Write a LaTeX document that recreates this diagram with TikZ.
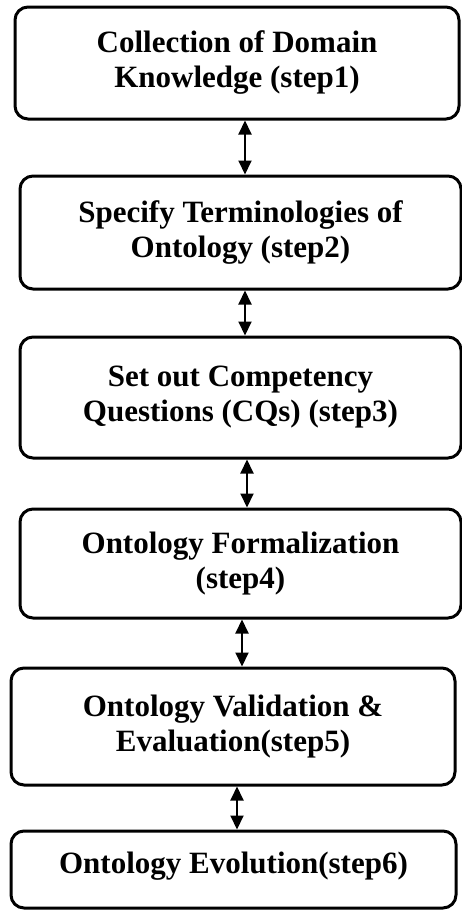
\documentclass[tikz,border=0pt]{standalone}
\usepackage{fontspec}
\setmainfont{Liberation Serif}
\usepackage{xcolor}
\usepackage{tikz}
\usetikzlibrary{arrows.meta,positioning,calc}
\definecolor{edgeblack}{HTML}{000000}
\tikzset{
  stepbox/.style={draw=edgeblack, line width=3pt, rounded corners=13pt, align=center, fill=white, inner sep=0pt, font=\fontsize{31}{35}\selectfont\bfseries},
  link/.style={{Triangle[length=14pt,width=13pt]}-{Triangle[length=14pt,width=13pt]}, line width=2pt, draw=edgeblack}
}

\begin{document}
\begin{tikzpicture}[x=1pt,y=-1pt]
  \useasboundingbox (0,0) rectangle (462,910);
  \node[stepbox, minimum width=444pt, minimum height=112pt] (collect) at (237,63) {Collection of Domain\\Knowledge (step1)};
  \node[stepbox, minimum width=441pt, minimum height=113pt] (terms) at (240.5,232.5) {Specify Terminologies of\\Ontology (step2)};
  \node[stepbox, minimum width=441pt, minimum height=121pt] (cqs) at (240.5,397.5) {Set out Competency\\Questions (CQs) (step3)};
  \node[stepbox, minimum width=441pt, minimum height=109pt] (formal) at (240.5,563.5) {Ontology Formalization\\(step4)};
  \node[stepbox, minimum width=444pt, minimum height=117pt] (valid) at (233,726.5) {Ontology Validation \&\\Evaluation(step5)};
  \node[stepbox, minimum width=445pt, minimum height=77pt, text depth=14pt] (evolve) at (233.5,869.5) {Ontology Evolution(step6)};

  \draw[link] ([xshift=8pt]collect.south) -- ([xshift=8pt]collect.south |- terms.north);
  \draw[link] ([xshift=4.5pt]terms.south) -- ([xshift=4.5pt]terms.south |- cqs.north);
  \draw[link] ([xshift=6.5pt]cqs.south) -- ([xshift=6.5pt]cqs.south |- formal.north);
  \draw[link] ([xshift=1.5pt]formal.south) -- ([xshift=1.5pt]formal.south |- valid.north);
  \draw[link] ([xshift=4pt]valid.south) -- ([xshift=4pt]valid.south |- evolve.north);
\end{tikzpicture}
\end{document}
